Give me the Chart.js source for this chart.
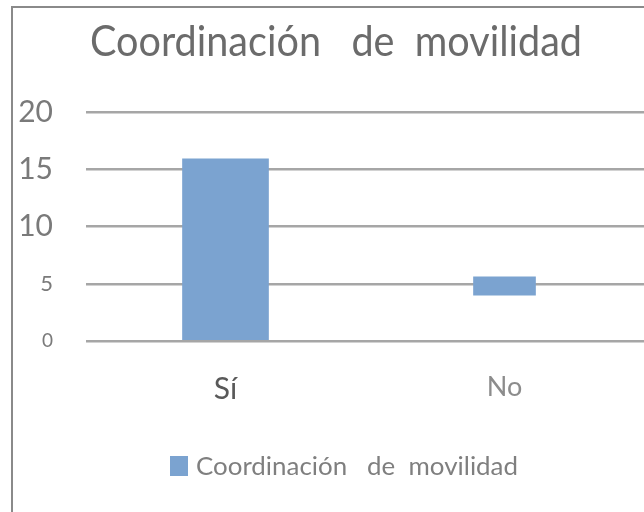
<!DOCTYPE html>
<html>
<head>
<meta charset="utf-8">
<script src="https://cdn.jsdelivr.net/npm/chart.js@4/dist/chart.umd.min.js"></script>
<style>
  html, body { margin: 0; padding: 0; background: #fff; }
  #wrap { position: relative; width: 644px; height: 512px; overflow: hidden; }
  #frame { position: absolute; left: 11px; top: 6px; width: 640px; height: 520px;
           border-left: 2px solid #8a8a8a; border-top: 2px solid #8a8a8a; }
  #c { position: absolute; left: 0; top: 0; }
</style>
</head>
<body>
<div id="wrap">
  <div id="frame"></div>
  <canvas id="c" width="644" height="512"></canvas>
</div>
<script>
// ------------------------------------------------------------
// Coordinación de movilidad — bar chart
// ------------------------------------------------------------

const categories  = ['Sí', 'No'];
const barFrom     = [0, 4];
const barTo       = [15.9, 5.6];
const yTicks      = [0, 5, 10, 15, 20];
const chartTitle  = 'Coordinación   de  movilidad';
const seriesLabel = 'Coordinación   de  movilidad';

const FONT     = 'Lato, "Open Sans", sans-serif';
const BAR_BLUE = '#7ba3d0';

// one dataset per bar so each can keep its own thickness
const barSet = (idx, thickness) => ({
  label: seriesLabel,
  data: categories.map((_, i) => i === idx ? [barFrom[i], barTo[i]] : null),
  backgroundColor: BAR_BLUE,
  borderWidth: 0,
  barThickness: thickness,
  grouped: false,
});

// the original uses uneven label sizes
const yTickSize = { 0: 19, 5: 22, 10: 30, 15: 30, 20: 30 };
const xTickLook = [
  { size: 30, color: '#595959' },
  { size: 27, color: '#8c8c8c' },
];

// draw text squeezed to a given width (the source font is narrow)
function fitText(ctx, text, x, y, width) {
  const w = ctx.measureText(text).width;
  ctx.save();
  ctx.translate(x, y);
  ctx.scale(width / w, 1);
  ctx.fillText(text, 0, 0);
  ctx.restore();
}

// title + legend sit off-centre in the original, so they are drawn here
const textLayer = {
  id: 'textLayer',
  afterDraw(chart) {
    const ctx = chart.ctx;
    ctx.save();
    ctx.textAlign = 'left';
    ctx.textBaseline = 'alphabetic';

    ctx.font = '42px ' + FONT;
    ctx.fillStyle = '#6b6b6b';
    fitText(ctx, chartTitle, 90, 56, 492);

    ctx.fillStyle = BAR_BLUE;
    ctx.fillRect(170, 456, 18, 20);
    ctx.font = '25px ' + FONT;
    ctx.fillStyle = '#7f7f7f';
    fitText(ctx, seriesLabel, 196, 475, 322);

    ctx.restore();
  },
};

new Chart(document.getElementById('c'), {
  type: 'bar',
  data: {
    labels: categories,
    datasets: [barSet(0, 86), barSet(1, 62)],
  },
  options: {
    responsive: false,
    animation: false,
    layout: { padding: { left: 0, top: 112, right: 0, bottom: 91 } },
    plugins: {
      legend:  { display: false },
      title:   { display: false },
      tooltip: { enabled: false },
    },
    scales: {
      x: {
        afterFit: s => { s.height = 80; },
        border: { display: false },
        grid: { display: false, drawTicks: false },
        ticks: {
          padding: 30,
          color: ctx => xTickLook[ctx.index].color,
          font: ctx => ({ family: FONT, size: xTickLook[ctx.index].size }),
        },
      },
      y: {
        min: 0, max: 20,
        afterBuildTicks: s => { s.ticks = yTicks.map(v => ({ value: v })); },
        afterFit: s => { s.width = 86; },
        border: { display: false },
        grid: { color: '#a6a6a6', lineWidth: 2.5, drawTicks: false },
        ticks: {
          padding: 33,
          color: '#7a7a7a',
          font: ctx => ({ family: FONT, size: yTickSize[ctx.tick ? ctx.tick.value : 20] || 30 }),
        },
      },
    },
  },
  plugins: [textLayer],
});
</script>
</body>
</html>
